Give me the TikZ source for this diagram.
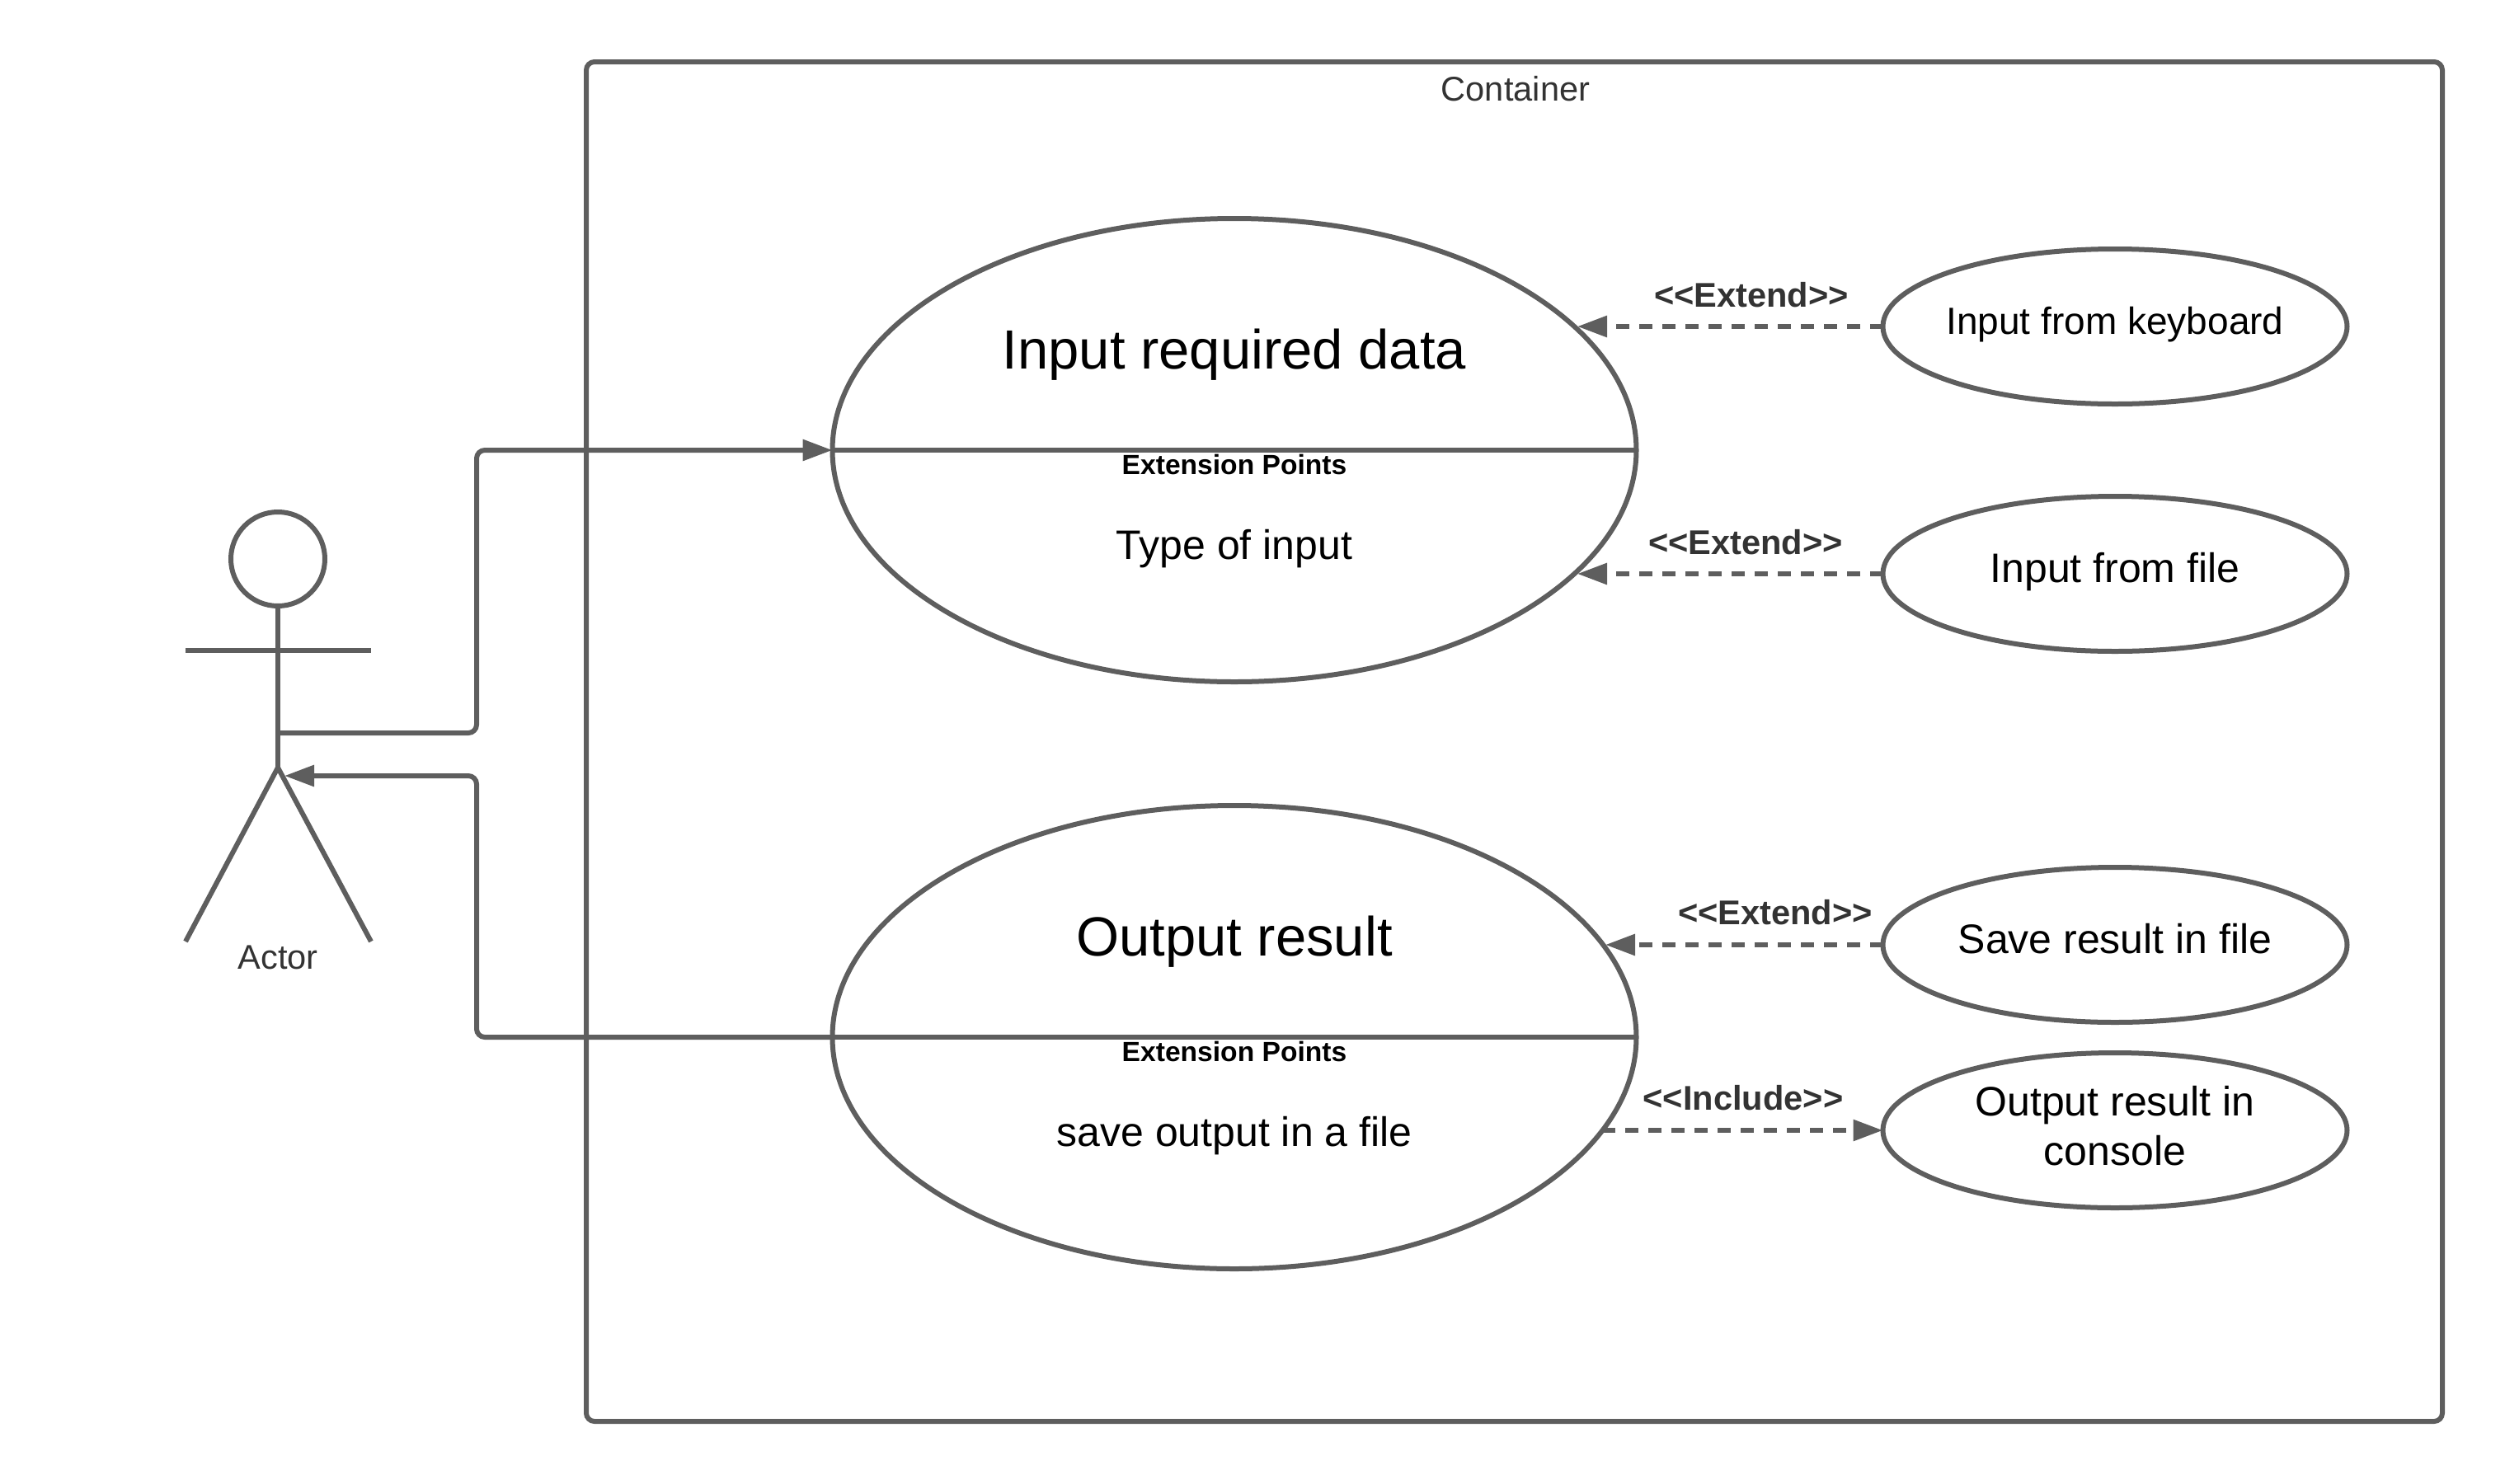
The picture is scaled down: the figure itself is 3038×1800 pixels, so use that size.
\documentclass[tikz,border=0pt]{standalone}
\usepackage{fontspec}
\setmainfont{Liberation Sans}
\usetikzlibrary{shapes.geometric,arrows.meta}
\definecolor{linegray}{HTML}{5E5E5E}
\definecolor{labelgray}{HTML}{333333}
\tikzset{
    diagline/.style={draw=linegray,line width=3pt},
    flowline/.style={diagline,rounded corners=5pt,-{Triangle[length=18pt,width=12.5pt]}},
    dashline/.style={diagline,dash pattern=on 8pt off 6pt,-{Triangle[length=18pt,width=12.5pt]}},
    bigcase/.style={ellipse,diagline,minimum width=487.5pt,minimum height=281pt,inner sep=0pt,outer sep=0pt},
    smallcase/.style={ellipse,diagline,minimum width=281.5pt,minimum height=94pt,inner sep=0pt,outer sep=0pt,text=black,font=\fontsize{25}{30}\selectfont},
    oneline/.style={text height=16pt,text depth=5.3pt},
    casetitle/.style={font=\fontsize{33.5}{40}\selectfont,text=black},
    pointhead/.style={font=\bfseries\fontsize{16.8}{20}\selectfont,text=black},
    pointtext/.style={font=\fontsize{25}{30}\selectfont,text=black},
    relation/.style={font=\bfseries\fontsize{20.8}{25}\selectfont,text=labelgray},
    caption/.style={font=\fontsize{20.8}{25}\selectfont,text=labelgray}
}
\begin{document}
\begin{tikzpicture}[x=0.5pt,y=-0.5pt]
    \useasboundingbox (0,0) rectangle (3038,1800);

    % Container
    \node[draw=linegray,line width=3pt,rounded corners=5pt,minimum width=1125.5pt,minimum height=824.5pt,inner sep=0pt,outer sep=0pt] (container) at (1836.5,899.5) {};
    \node[caption] (containerText) at (1838,108) {Container};

    % Actor
    \node[circle,diagline,minimum size=57pt,inner sep=0pt,outer sep=0pt] (actorHead) at (337,678) {};
    \coordinate (actorNeck) at (actorHead.south);
    \coordinate (actorHip) at (337,931);
    \coordinate (actorHand) at (337,889);
    \coordinate (actorFoot) at (345,941);
    \draw[diagline] (actorNeck) -- (actorHip);
    \draw[diagline] (225,789) -- (450,789);
    \draw[diagline] (225,1142) -- (actorHip) -- (450,1142);
    \node[caption] (actorText) at (337,1161) {Actor};

    % Use cases
    \node[bigcase] (inputCase) at (1497,546) {};
    \node[bigcase] (outputCase) at (1497,1258) {};
    \draw[diagline] (inputCase.west) -- (inputCase.east);
    \draw[diagline] (outputCase.west) -- (outputCase.east);
    \node[casetitle] (inputTitle) at (1497,430) {Input required data};
    \node[pointhead] (inputHead) at (1497,563) {Extension Points};
    \node[pointtext] (inputPoint) at (1497,666) {Type of input};
    \node[casetitle] (outputTitle) at (1497,1142) {Output result};
    \node[pointhead] (outputHead) at (1497,1275) {Extension Points};
    \node[pointtext] (outputPoint) at (1497,1378) {save output in a file};

    % Extensions
    \node[smallcase,text height=14.5pt,text depth=5.4pt,font=\fontsize{23}{28}\selectfont] (keyboardCase) at (2565,396) {\makebox[0pt]{Input from keyboard}};
    \node[smallcase,oneline] (fileCase) at (2565,696) {Input from file};
    \node[smallcase,oneline] (saveCase) at (2565,1146) {Save result in file};
    \node[smallcase] (consoleCase) at (2565,1371) {\raisebox{1.5pt}{\begin{tabular}{@{}c@{}}Output result in\\console\end{tabular}}};

    % Connectors
    \draw[flowline] (actorHand) -- (578,889) -- (578,546) -- (inputCase.west);
    \draw[flowline] (outputCase.west) -- (578,1258) -- (578,941) -- (actorFoot);

    \coordinate (keyboardEnd) at (1913,396);
    \coordinate (fileEnd) at (1913,696);
    \coordinate (saveEnd) at (1947,1146);
    \coordinate (consoleStart) at (1943,1371);
    \draw[dashline] (keyboardCase.west) -- (keyboardEnd);
    \draw[dashline] (fileCase.west) -- (fileEnd);
    \draw[dashline] (saveCase.west) -- (saveEnd);
    \draw[dashline] (consoleStart) -- (consoleCase.west);
    \node[relation] (keyboardRel) at (2124,358) {<{}<Extend>{}>};
    \node[relation] (fileRel) at (2117,658) {<{}<Extend>{}>};
    \node[relation] (saveRel) at (2153,1107) {<{}<Extend>{}>};
    \node[relation] (consoleRel) at (2114,1332) {<{}<Include>{}>};
\end{tikzpicture}
\end{document}
